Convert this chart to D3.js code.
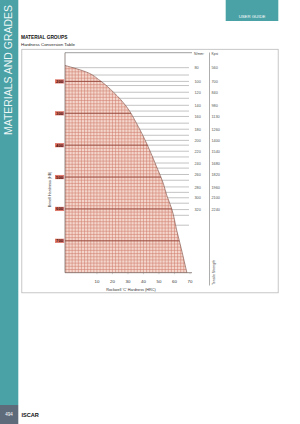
<!DOCTYPE html>
<html>
<head>
<meta charset="utf-8">
<script src="https://cdn.jsdelivr.net/npm/d3@7"></script>
<style>
  body { margin: 0; background: #fff; }
  svg { display: block; font-family: "Liberation Sans", Arial, Helvetica, sans-serif; }
</style>
</head>
<body>
<script>
// curve: Rockwell C vs Brinell
var curveHRC = [-10.6, 3.4, 11.9, 20.5, 29.2, 35.6, 42.1, 48.5, 52.8, 55.0, 58.2, 61.4, 64.6, 68.0];
var curveHB  = [150, 171, 197, 233, 280, 332, 395, 468, 520, 557, 599, 666, 729, 800];

var hbTicks  = [200, 300, 400, 500, 600, 700];
var hrcTicks = [10, 20, 30, 40, 50, 60, 70];

// tensile strength rows (labels as printed) and the HB level of each row
var tensileN  = [80, 100, 120, 140, 160, 180, 200, 220, 240, 260, 280, 300, 320];
var tensileK  = [560, 700, 840, 980, 1130, 1260, 1400, 1540, 1680, 1820, 1960, 2100, 2240];
var tensileHB = [157, 200, 234, 275, 310, 350, 385, 419, 456, 492, 531, 565, 602];
// unlabeled lines in between
var extraHB   = [180, 213, 253, 293, 331, 369, 400, 437, 472, 510, 548, 582, 620, 651];

var W = 300, H = 424;
var teal = "#4aa2a6";

var svg = d3.select("body").append("svg")
    .attr("width", W)
    .attr("height", H);

// page furniture
svg.append("rect").attr("x", 0).attr("y", 0).attr("width", 18.3).attr("height", 405).attr("fill", teal);
svg.append("rect").attr("x", 0).attr("y", 405).attr("width", 18.3).attr("height", 19).attr("fill", "#5e6b7a");
svg.append("text").attr("x", 9).attr("y", 416).attr("text-anchor", "middle")
    .attr("font-size", 4.5).attr("fill", "#fff").text("494");
svg.append("text").attr("x", 21.5).attr("y", 416.6)
    .attr("font-size", 5.6).attr("font-weight", "bold").attr("fill", "#111").text("ISCAR");

svg.append("text")
    .attr("transform", "translate(12.4,135) rotate(-90)")
    .attr("font-size", 10).attr("fill", "#fff").attr("fill-opacity", 0.92)
    .attr("textLength", 130).attr("lengthAdjust", "spacingAndGlyphs")
    .text("MATERIALS AND GRADES");

svg.append("rect").attr("x", 225.7).attr("y", 0).attr("width", 52.6).attr("height", 21).attr("fill", teal);
svg.append("text").attr("x", 252).attr("y", 17.5).attr("text-anchor", "middle")
    .attr("font-size", 4.3).attr("fill", "#fff").text("USER GUIDE");

svg.append("text").attr("x", 21).attr("y", 39.4)
    .attr("font-size", 4.8).attr("font-weight", "bold").attr("fill", "#111").text("MATERIAL GROUPS");
svg.append("text").attr("x", 21).attr("y", 45.6)
    .attr("font-size", 4.4).attr("fill", "#222").text("Hardness Conversion Table");

// frame
svg.append("rect").attr("x", 21.8).attr("y", 49.3).attr("width", 256.4).attr("height", 243.5)
    .attr("fill", "none").attr("stroke", "#b9b9b9").attr("stroke-width", 0.8);

// scales
var x = d3.scaleLinear().domain([-10.6, 70]).range([65, 190]);
var y = d3.scaleLinear().domain([110, 800]).range([52.7, 272.7]);
var hbTop = 110, hbBottom = 800, hrcLeft = -10.6;

// gray tensile lines (under the hatched area)
var g = svg.append("g");
g.selectAll(".tline").data(tensileHB.concat(extraHB)).enter().append("line")
    .attr("x1", x(hrcLeft)).attr("x2", x(70) - 1)
    .attr("y1", function(d){ return y(d); }).attr("y2", function(d){ return y(d); })
    .attr("stroke", "#9a9a9a").attr("stroke-width", 0.6);

// hatched area under the curve
var pts = curveHRC.map(function(c, i){ return [c, curveHB[i]]; });

var line = d3.line()
    .x(function(d){ return x(d[0]); })
    .y(function(d){ return y(d[1]); })
    .curve(d3.curveMonotoneY);

var areaGen = d3.area()
    .y(function(d){ return y(d[1]); })
    .x0(x(hrcLeft))
    .x1(function(d){ return x(d[0]); })
    .curve(d3.curveMonotoneY);

svg.append("clipPath").attr("id", "hatch")
    .append("path").attr("d", areaGen(pts));

var hatch = svg.append("g").attr("clip-path", "url(#hatch)");
hatch.append("path").attr("d", areaGen(pts)).attr("fill", "#f4d6cc");

var vGrid = d3.range(-10, 71, 2);
var hGrid = d3.range(hbTop, hbBottom + 1, 10);
hatch.selectAll(".vg").data(vGrid).enter().append("line")
    .attr("x1", function(d){ return x(d); }).attr("x2", function(d){ return x(d); })
    .attr("y1", y(hbTop)).attr("y2", y(hbBottom))
    .attr("stroke", "#cf7d6d").attr("stroke-width", 0.55);
hatch.selectAll(".hg").data(hGrid).enter().append("line")
    .attr("x1", x(hrcLeft)).attr("x2", x(70))
    .attr("y1", function(d){ return y(d); }).attr("y2", function(d){ return y(d); })
    .attr("stroke", "#cf7d6d").attr("stroke-width", 0.55);
hatch.selectAll(".major").data(hbTicks).enter().append("line")
    .attr("x1", x(hrcLeft)).attr("x2", x(70))
    .attr("y1", function(d){ return y(d); }).attr("y2", function(d){ return y(d); })
    .attr("stroke", "#8c3f33").attr("stroke-width", 0.8);

svg.append("path").attr("d", line(pts))
    .attr("fill", "none").attr("stroke", "#7b4b42").attr("stroke-width", 0.6);

// axes lines
svg.append("line").attr("x1", x(hrcLeft)).attr("x2", 192).attr("y1", y(hbTop)).attr("y2", y(hbTop))
    .attr("stroke", "#777").attr("stroke-width", 0.7);
svg.append("line").attr("x1", x(hrcLeft)).attr("x2", x(hrcLeft)).attr("y1", y(hbTop)).attr("y2", y(hbBottom))
    .attr("stroke", "#6a5a58").attr("stroke-width", 0.7);
svg.append("line").attr("x1", x(hrcLeft)).attr("x2", 192).attr("y1", y(hbBottom)).attr("y2", y(hbBottom))
    .attr("stroke", "#6a5a58").attr("stroke-width", 0.7);

// x ticks
svg.selectAll(".xt").data(hrcTicks).enter().append("line")
    .attr("x1", function(d){ return x(d); }).attr("x2", function(d){ return x(d); })
    .attr("y1", y(hbBottom)).attr("y2", y(hbBottom) + 1.5)
    .attr("stroke", "#888").attr("stroke-width", 0.4);
svg.selectAll(".xl").data(hrcTicks).enter().append("text")
    .attr("x", function(d){ return x(d); }).attr("y", 282.6)
    .attr("text-anchor", "middle").attr("font-size", 4.4).attr("fill", "#333")
    .text(function(d){ return d; });
svg.append("text").attr("x", 131).attr("y", 290.8).attr("text-anchor", "middle")
    .attr("font-size", 3.8).attr("fill", "#333").text("Rockwell \u2018C\u2019 Hardness (HRC)");

// y labels in red boxes
var yl = svg.selectAll(".yl").data(hbTicks).enter().append("g")
    .attr("transform", function(d){ return "translate(55," + y(d) + ")"; });
yl.append("rect").attr("x", 0).attr("y", -2.1).attr("width", 9.2).attr("height", 4.2).attr("fill", "#de7a6e");
yl.append("text").attr("x", 4.6).attr("y", 1.55).attr("text-anchor", "middle")
    .attr("font-size", 4.3).attr("font-weight", "bold").attr("fill", "#4a0e08").text(function(d){ return d; });
svg.append("text").attr("transform", "translate(51.4,189.5) rotate(-90)")
    .attr("text-anchor", "middle").attr("font-size", 3.7).attr("fill", "#333")
    .text("Brinell Hardness (HB)");

// tensile strength columns
svg.append("line").attr("x1", 209.5).attr("x2", 209.5).attr("y1", 52.5).attr("y2", 285.5)
    .attr("stroke", "#999").attr("stroke-width", 0.8);
svg.append("text").attr("x", 194).attr("y", 55).attr("font-size", 3.4).attr("fill", "#444").text("N/mm\u00b2");
svg.append("text").attr("x", 211.5).attr("y", 55).attr("font-size", 3.4).attr("fill", "#444").text("Kpsi");
svg.selectAll(".tn").data(tensileN).enter().append("text")
    .attr("x", 194.5).attr("y", function(d, i){ return y(tensileHB[i]) + 1.6; })
    .attr("font-size", 3.8).attr("fill", "#555").text(function(d){ return d; });
svg.selectAll(".tk").data(tensileK).enter().append("text")
    .attr("x", 211.5).attr("y", function(d, i){ return y(tensileHB[i]) + 1.6; })
    .attr("font-size", 3.8).attr("fill", "#555").text(function(d){ return d; });
svg.append("text").attr("transform", "translate(214.6,285) rotate(-90)")
    .attr("font-size", 3.5).attr("fill", "#444").text("Tensile Strength");
</script>
</body>
</html>
